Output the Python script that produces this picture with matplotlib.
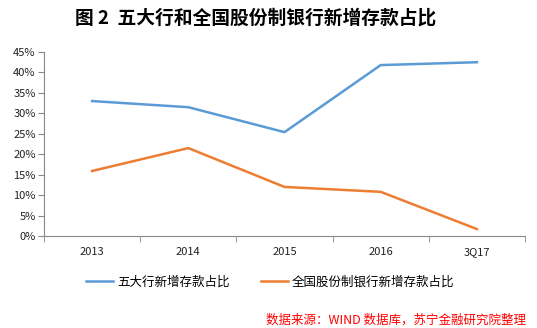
import matplotlib
matplotlib.use("Agg")
import matplotlib.pyplot as plt
import numpy as np
from matplotlib.ticker import FixedLocator, PercentFormatter

plt.rcParams["font.family"] = ["Noto Sans CJK SC", "DejaVu Sans"]

# ---------------------------------------------------------------------------
# Data
# ---------------------------------------------------------------------------
categories = ["2013", "2014", "2015", "2016", "3Q17"]
big_five = [33.0, 31.5, 25.4, 41.8, 42.5]
joint_stock = [15.9, 21.5, 12.0, 10.8, 1.7]
series_names = ["五大行新增存款占比", "全国股份制银行新增存款占比"]

title = "图 2  五大行和全国股份制银行新增存款占比"
source = "数据来源：WIND 数据库，苏宁金融研究院整理"

# ---------------------------------------------------------------------------
# Figure
# ---------------------------------------------------------------------------
fig = plt.figure(figsize=(5.37, 3.28), dpi=100)
ax = fig.add_axes([44 / 537, 1 - 236 / 328, (525 - 44) / 537, (236 - 52) / 328])

x = np.arange(len(categories))
ax.plot(x, big_five, color="#5B9BD5", linewidth=1.8, label=series_names[0])
ax.plot(x, joint_stock, color="#ED7D31", linewidth=1.8, label=series_names[1])

ax.set_xlim(-0.5, len(categories) - 0.5)
ax.set_ylim(0, 45)
ax.yaxis.set_major_locator(FixedLocator(np.arange(0, 46, 5)))
ax.yaxis.set_major_formatter(PercentFormatter(decimals=0))

ax.set_xticks(x)
ax.set_xticklabels(categories)
ax.xaxis.set_minor_locator(FixedLocator(np.arange(-0.5, len(categories), 1)))
ax.tick_params(axis="x", which="major", length=0, pad=8)
ax.tick_params(axis="x", which="minor", length=4, color="#888888", direction="out")
ax.tick_params(axis="y", length=4, color="#888888", direction="out", pad=2)
ax.tick_params(labelsize=8, labelcolor="#222222")

for side in ("top", "right"):
    ax.spines[side].set_visible(False)
for side in ("left", "bottom"):
    ax.spines[side].set_color("#888888")
    ax.spines[side].set_linewidth(0.8)

fig.text(256 / 537, 1 - 18 / 328, title, ha="center", va="center",
         fontsize=13.5, fontweight="bold")

fig.legend(loc="center", bbox_to_anchor=(270 / 537, 1 - 282 / 328), ncol=2,
           frameon=False, fontsize=9, handlelength=2.2, columnspacing=2.5,
           handletextpad=0.3)

fig.text(526 / 537, 1 - 320 / 328, source, ha="right", va="center",
         fontsize=9, color="#FF0000", style="italic")

fig.savefig("out.png", dpi=100)
